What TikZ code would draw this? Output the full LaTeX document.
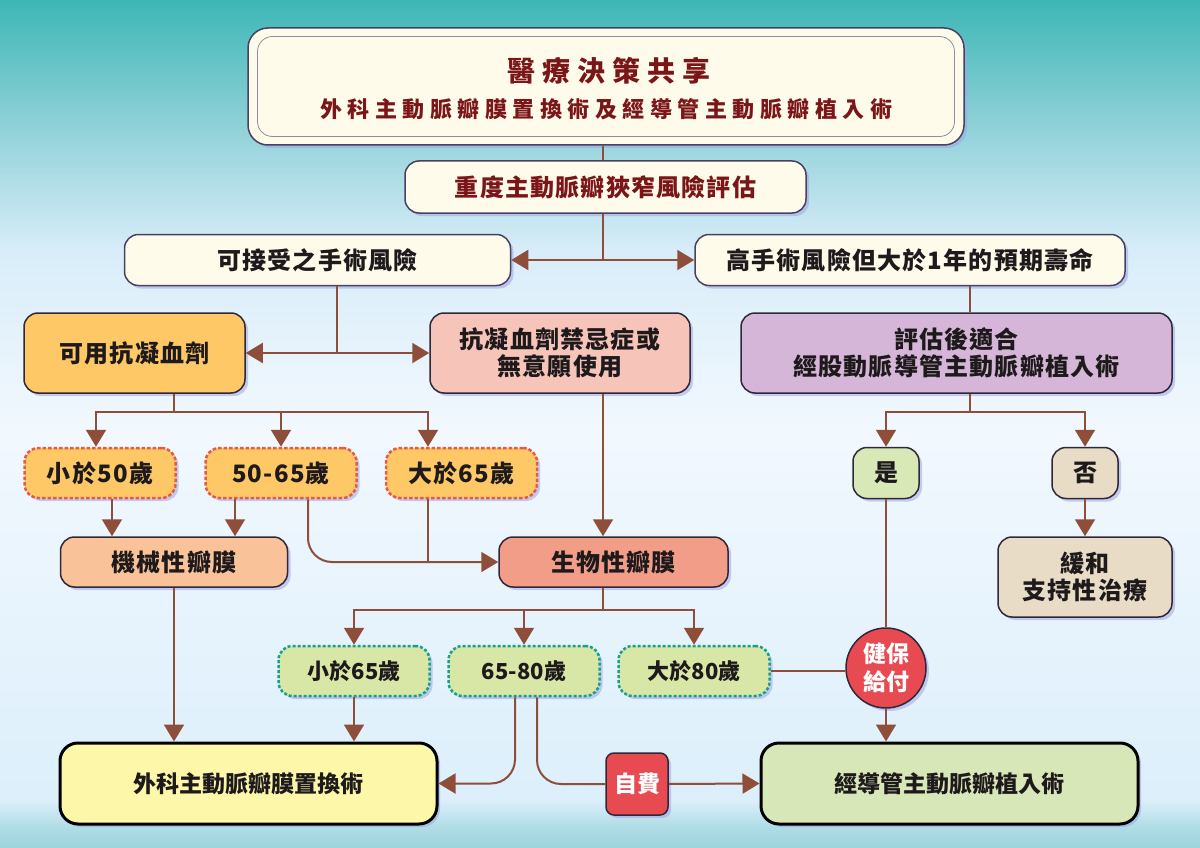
\documentclass[tikz,border=0pt]{standalone}
\usepackage{fontspec}
\usetikzlibrary{arrows.meta,shadows,calc}
\newfontfamily\fTitle{Noto Sans CJK TC}[LetterSpace=25]
\newfontfamily\fBody{Noto Sans CJK TC}[LetterSpace=5]
\newfontfamily\fPlain{Noto Sans CJK TC}
\definecolor{cream}{HTML}{FFFBEA}
\definecolor{edgec}{HTML}{2E2838}
\definecolor{titleedge}{HTML}{4A4060}
\definecolor{linec}{HTML}{8E4E3A}
\definecolor{titlec}{HTML}{7A1518}
\definecolor{txtc}{HTML}{1E1A1C}
\definecolor{orangef}{HTML}{FDC865}
\definecolor{pinkf}{HTML}{F7C4B9}
\definecolor{lavf}{HTML}{D5B6D8}
\definecolor{peachf}{HTML}{F9C299}
\definecolor{salmonf}{HTML}{F29D87}
\definecolor{greenf}{HTML}{D8E6A6}
\definecolor{yesf}{HTML}{D8E8B6}
\definecolor{beigef}{HTML}{E8DCC6}
\definecolor{yellowf}{HTML}{FDF7A9}
\definecolor{tavif}{HTML}{D8E7B8}
\definecolor{redf}{HTML}{E84A52}
\definecolor{dashr}{HTML}{E85A48}
\definecolor{dotg}{HTML}{17A08E}
\definecolor{shadowc}{HTML}{9FA6E6}
\definecolor{bgA}{HTML}{3DB7B6}
\definecolor{bgB}{HTML}{8FD1D8}
\definecolor{bgC}{HTML}{D8EDF9}
\definecolor{bgD}{HTML}{F2F8FE}
\definecolor{bgE}{HTML}{DCEFFB}
\definecolor{bgF}{HTML}{B0DDE6}
\definecolor{bgG}{HTML}{9ED3DD}
\begin{document}
\begin{tikzpicture}[x=1pt,y=-1pt,
  shad/.style={drop shadow={shadow xshift=3pt,shadow yshift=-3pt,fill=shadowc,opacity=0.55}},
  base/.style={draw=edgec, line width=1.5pt, rounded corners=14pt, align=center, inner sep=0pt,
    text=txtc, font=\fBody\bfseries\fontsize{24}{27}\selectfont, shad},
  cbox/.style={base, fill=cream, draw=titleedge},
  agebox/.style={base, fill=orangef, draw=dashr, line width=2.5pt, dash pattern=on 3.5pt off 2pt,
    minimum width=151pt, minimum height=50pt},
  gbox/.style={base, fill=greenf, draw=dotg, line width=2.5pt, dash pattern=on 3pt off 2pt,
    minimum width=151pt, minimum height=50pt, font=\fPlain\bfseries\fontsize{22}{26}\selectfont},
  bigbox/.style={base, draw=black, line width=3pt, rounded corners=18pt,
    minimum width=377pt, minimum height=81pt, font=\fPlain\bfseries\fontsize{23}{27}\selectfont},
  redbox/.style={base, fill=redf, text=white, rounded corners=8pt, minimum width=62pt, minimum height=62pt,
    font=\fPlain\bfseries\fontsize{23}{27}\selectfont},
  circ/.style={circle, draw=edgec, line width=1.5pt, fill=redf, text=white, align=center, inner sep=0pt,
    minimum size=80pt, font=\fPlain\bfseries\fontsize{23}{28}\selectfont, shad},
  conn/.style={draw=linec, line width=2pt},
  arr/.style={conn, -{Triangle[length=17pt,width=20pt]}}
]
\useasboundingbox (0,0) rectangle (1200,848);
% background
\shade[top color=bgA, bottom color=bgB] (0,0) rectangle (1200,125.5);
\shade[top color=bgB, bottom color=bgC] (0,125) rectangle (1200,250.5);
\shade[top color=bgC, bottom color=bgD] (0,250) rectangle (1200,430.5);
\shade[top color=bgD, bottom color=bgE] (0,430) rectangle (1200,800.5);
\shade[top color=bgE, bottom color=bgF] (0,800) rectangle (1200,826.5);
\shade[top color=bgF, bottom color=bgG] (0,826) rectangle (1200,848);

% title
\node[cbox, rounded corners=20pt, minimum width=716pt, minimum height=117pt] (title) at (606,86.5) {};
\node[draw=titleedge!60, line width=0.8pt, rounded corners=15pt, minimum width=697pt, minimum height=100pt] (titlein) at (606,86.5) {};
\node[text=titlec, font=\fTitle\bfseries\fontsize{28}{32}\selectfont] (t1) at (609,71) {醫療決策共享};
\node[text=titlec, font=\fTitle\bfseries\fontsize{22}{26}\selectfont] (t2) at (606,109) {外科主動脈瓣膜置換術及經導管主動脈瓣植入術};

\node[cbox, text=titlec, minimum width=401pt, minimum height=52pt] (risk) at (605.5,187) {重度主動脈瓣狹窄風險評估};
\node[cbox, minimum width=386pt, minimum height=51pt] (acc) at (317.5,260) {可接受之手術風險};
\node[cbox, minimum width=430pt, minimum height=51pt] (high) at (910,260) {高手術風險但大於1年的預期壽命};

\node[base, fill=orangef, minimum width=221pt, minimum height=80pt] (anti) at (134.5,353) {可用抗凝血劑};
\node[base, fill=pinkf, minimum width=260pt, minimum height=80pt] (contra) at (560,353) {抗凝血劑禁忌症或\\無意願使用};
\node[base, fill=lavf, minimum width=431pt, minimum height=80pt] (eval) at (956.5,353) {評估後適合\\經股動脈導管主動脈瓣植入術};

\node[agebox] (a50) at (100,473) {小於50歲};
\node[agebox] (a5065) at (281,473) {50-65歲};
\node[agebox] (a65) at (461.5,473) {大於65歲};

\node[base, fill=peachf, minimum width=227pt, minimum height=50pt] (mech) at (174,562) {機械性瓣膜};
\node[base, fill=salmonf, minimum width=229pt, minimum height=50pt] (bio) at (613.5,562) {生物性瓣膜};

\node[gbox] (y65) at (354,671) {小於65歲};
\node[gbox] (y6580) at (524,671) {65-80歲};
\node[gbox] (y80) at (694,671) {大於80歲};

\node[bigbox, fill=yellowf] (sav) at (248.5,783.5) {外科主動脈瓣膜置換術};
\node[bigbox, fill=tavif] (tavi) at (949.5,783.5) {經導管主動脈瓣植入術};
\node[redbox] (self) at (637,784) {自費};

\node[base, fill=yesf, minimum width=66pt, minimum height=51pt] (yes) at (886,473) {是};
\node[base, fill=beigef, minimum width=66pt, minimum height=51pt] (no) at (1085,473) {否};
\node[base, fill=beigef, minimum width=174pt, minimum height=80pt] (pall) at (1085,577) {緩和\\支持性治療};
\node[circ] (nhi) at (886,668) {健保\\給付};

% connectors
\coordinate (sp) at (603,0);
\draw[conn] (title.south -| sp) -- (risk.north -| sp);
\coordinate (j1) at (603,260);
\draw[conn] (risk.south -| sp) -- (j1);
\draw[arr] (j1) -- (acc.east);
\draw[arr] (j1) -- (high.west);
\coordinate (j2) at (337,353);
\draw[conn] (acc.south -| j2) -- (j2);
\draw[arr] (j2) -- (anti.east);
\draw[arr] (j2) -- (contra.west);
\coordinate (x970) at (970,0);
\draw[conn] (high.south -| x970) -- (eval.north -| x970);

\coordinate (b1) at (174,412);
\coordinate (b1L) at (96,412);
\coordinate (b1R) at (428,412);
\draw[conn] (anti.south -| b1) -- (b1);
\draw[arr] (b1) -| (a50.north -| b1L);
\draw[arr] (b1) -| (a65.north -| b1R);
\draw[arr] (b1 -| a5065.north) -- (a5065.north);

\coordinate (x112) at (112,0);
\coordinate (x235) at (235,0);
\coordinate (x308) at (308,0);
\draw[arr] (a50.south -| x112) -- (mech.north -| x112);
\draw[arr] (a5065.south -| x235) -- (mech.north -| x235);
\draw[arr, rounded corners=24pt] (a5065.south -| x308) |- (bio.west);
\draw[conn] (a65.south -| b1R) -- (b1R |- bio.west);
\draw[arr] (contra.south -| sp) -- (bio.north -| sp);

\coordinate (b2) at (603,610);
\draw[conn] (bio.south -| sp) -- (b2);
\draw[arr] (b2) -| (y65.north);
\draw[arr] (b2) -| (y80.north);
\draw[arr] (b2 -| y6580.north) -- (y6580.north);

\draw[arr] (mech.south) -- (sav.north -| mech.south);
\draw[arr] (y65.south) -- (sav.north -| y65.south);
\coordinate (x516) at (515,0);
\coordinate (x537) at (537,0);
\draw[arr, rounded corners=24pt] (y6580.south -| x516) |- (sav.east);
\draw[conn, rounded corners=24pt] (y6580.south -| x537) |- (self.west);
\draw[arr] (self.east) -- (tavi.west);

\coordinate (b3) at (970,412);
\draw[conn] (eval.south -| b3) -- (b3);
\draw[arr] (b3) -| (yes.north);
\draw[arr] (b3) -| (no.north);
\draw[arr] (no.south) -- (pall.north);
\draw[conn] (yes.south) -- (nhi.north);
\draw[conn] (y80.east) -- (y80.east -| nhi.west);
\draw[arr] (nhi.south) -- (tavi.north -| nhi.south);
\end{tikzpicture}
\end{document}
